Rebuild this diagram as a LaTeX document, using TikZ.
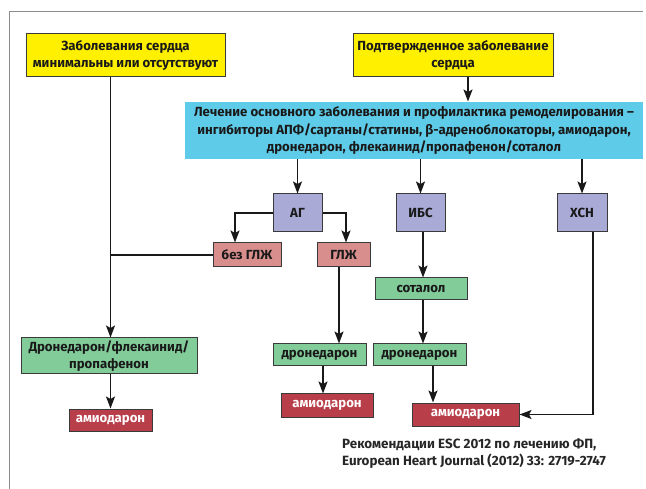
\documentclass[tikz,border=0pt]{standalone}
\usepackage{fontspec}
\setmainfont{Fira Sans}
\usetikzlibrary{arrows.meta,calc}
\definecolor{cYel}{HTML}{FFF000}
\definecolor{cCyan}{HTML}{5ECBE8}
\definecolor{cLav}{HTML}{A9AAD6}
\definecolor{cPink}{HTML}{D98E8E}
\definecolor{cGreen}{HTML}{82CC9A}
\definecolor{cRed}{HTML}{B83E4A}
\definecolor{cEdge}{HTML}{3A3A3A}
\definecolor{cFrame}{HTML}{8C8C8C}
\tikzset{
  box/.style={draw=cEdge,line width=1pt,inner sep=0pt,align=center,font=\fontsize{13.2}{17.5}\selectfont\bfseries,text=black!90},
  yelbox/.style={box,fill=cYel},
  cyanbox/.style={box,draw=none,fill=cCyan},
  lavbox/.style={box,fill=cLav},
  pinkbox/.style={box,fill=cPink},
  greenbox/.style={box,fill=cGreen},
  redbox/.style={box,fill=cRed,text=white},
  arr/.style={line width=1.5pt,draw=black!90,-{Stealth[length=12pt,width=9pt,inset=2.5pt]}},
  ln/.style={line width=1.5pt,draw=black!90},
}
\begin{document}
\begin{tikzpicture}[x=1pt,y=-1pt]
\useasboundingbox (0,0) rectangle (646,489);
\draw[cFrame,line width=1pt] (9,489) -- (9,12) -- (643,12);

\node[yelbox,minimum width=199,minimum height=43] (y1) at (125.5,55.5) {Заболевания сердца\\минимальны или отсутствуют};
\node[yelbox,minimum width=200,minimum height=43] (y2) at (453,55.5) {Подтвержденное заболевание\\сердца};
\node[cyanbox,minimum width=458,minimum height=57] (cy) at (414,130.5) {Лечение основного заболевания и профилактика ремоделирования –\\ингибиторы АПФ/сартаны/статины, β-адреноблокаторы, амиодарон,\\дронедарон, флекаинид/пропафенон/соталол};

\node[lavbox,minimum width=49,minimum height=38] (ag) at (297.5,213) {АГ};
\node[lavbox,minimum width=49,minimum height=38] (ibs) at (420.5,213) {ИБС};
\node[lavbox,minimum width=50,minimum height=38] (hsn) at (582,213) {ХСН};

\node[pinkbox,minimum width=68,minimum height=24] (bez) at (247,255) {без ГЛЖ};
\node[pinkbox,minimum width=53,minimum height=24] (glzh) at (343.5,255) {ГЛЖ};

\node[greenbox,minimum width=92,minimum height=22] (sot) at (421,289) {соталол};
\node[greenbox,minimum width=176,minimum height=36] (dr1) at (109,356) {Дронедарон/флекаинид/\\пропафенон};
\node[greenbox,minimum width=93,minimum height=22] (dr2) at (319.5,355) {дронедарон};
\node[greenbox,minimum width=93,minimum height=22] (dr3) at (419.5,355) {дронедарон};

\node[redbox,minimum width=83,minimum height=22] (am1) at (110.5,420) {амиодарон};
\node[redbox,minimum width=92,minimum height=23] (am2) at (327,405.5) {амиодарон};
\node[redbox,minimum width=107,minimum height=23] (am3) at (465.5,414.5) {амиодарон};

\node[anchor=north west,align=left,inner sep=0pt,font=\fontsize{13.4}{16.5}\selectfont\bfseries,text=black!85] (ref) at (342,439) {Рекомендации ESC 2012 по лечению ФП,\\European Heart Journal (2012) 33: 2719-2747};

% connectors
\coordinate (tr) at ([xshift=1.5]dr1.north);
\coordinate (y2o) at ([xshift=15]y2.south);
\draw[arr] (y1.south -| tr) -- (tr);
\draw[ln] (bez.west) -- (bez.west -| tr);
\draw[arr] (y2o) -- (y2o |- cy.north);
\draw[arr] (cy.south -| ag.north) -- (ag.north);
\draw[arr] (cy.south -| ibs.north) -- (ibs.north);
\draw[arr] (cy.south -| hsn.north) -- (hsn.north);
\draw[arr] (ag.west) -| ([xshift=-12]bez.north);
\draw[arr] (ag.east) -| ([xshift=2.5]glzh.north);
\coordinate (gb) at ([xshift=-4.5]glzh.south);
\draw[arr] (gb) -- (gb |- dr2.north);
\coordinate (ib) at ([xshift=2.5]ibs.south);
\draw[arr] (ib) -- (ib |- sot.north);
\coordinate (sb) at ([xshift=2]sot.south);
\draw[arr] (sb) -- (sb |- dr3.north);
\coordinate (d2b) at ([xshift=3.5]dr2.south);
\draw[arr] (d2b) -- (d2b |- am2.north);
\coordinate (d3b) at ([xshift=13.5]dr3.south);
\draw[arr] (d3b) -- (d3b |- am3.north);
\draw[arr] (dr1.south -| am1.north) -- (am1.north);
\draw[arr] ([xshift=11]hsn.south) |- (am3.east);
\end{tikzpicture}
\end{document}
